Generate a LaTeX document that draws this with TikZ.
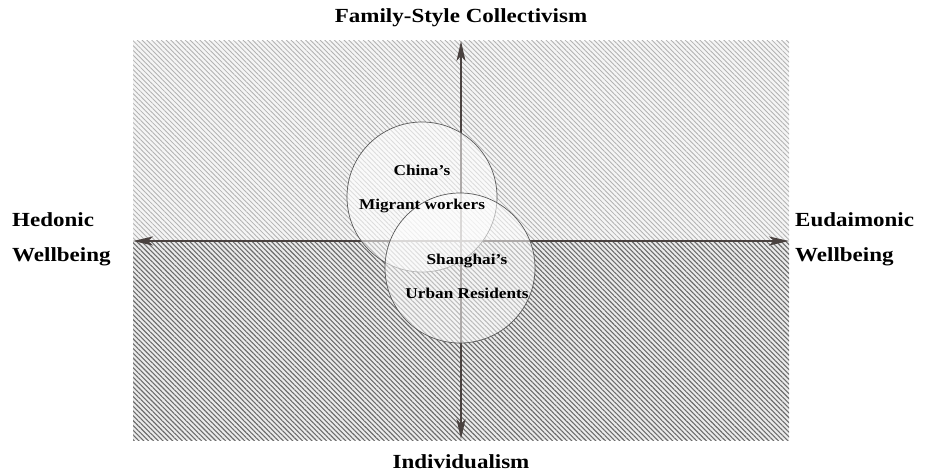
\documentclass[tikz,border=0pt]{standalone}
\usepackage{fontspec}
\setmainfont{Liberation Serif}[FakeStretch=1.15]
\usetikzlibrary{patterns.meta,arrows.meta}
\definecolor{axiscol}{HTML}{4A4240}
\tikzset{
  lightfill/.style={pattern={Lines[angle=-45,distance=3.4pt,line width=0.85pt]},pattern color=black!30},
  darkfill/.style={pattern={Lines[angle=-45,distance=3.4pt,line width=1.1pt]},pattern color=black!58},
  axis/.style={draw=axiscol,line width=1.6pt,{Stealth[length=20pt,width=9pt,inset=5pt]}-{Stealth[length=20pt,width=9pt,inset=5pt]}},
  bubble/.style={circle,draw=black!65,line width=0.7pt,minimum size=150pt,inner sep=0pt,fill=white,fill opacity=0.55},
  label/.style={font=\fontsize{20}{35}\selectfont\bfseries,inner sep=0pt},
  bubtext/.style={font=\fontsize{15}{34}\selectfont\bfseries,align=center,inner sep=0pt,text opacity=1}
}
\begin{document}
\begin{tikzpicture}[x=1pt,y=1pt]
\useasboundingbox (0,0) rectangle (925,475);
\fill[white] (0,0) rectangle (925,475);
\fill[black!4] (133,234) rectangle (789,434);
\fill[lightfill] (133,234) rectangle (789,434);
\fill[black!8] (133,35) rectangle (789,234);
\fill[darkfill] (133,35) rectangle (789,234);
\coordinate (L) at (133,234);
\coordinate (R) at (789,234);
\coordinate (T) at (461,434);
\coordinate (B) at (461,36);
\draw[axis] (L) -- (R);
\draw[axis] (B) -- (T);
\node[bubble] (c1) at (422,278) {};
\node[bubble] (c2) at (460,207) {};
\node[bubtext,anchor=base] (t1) at (422,266) {China's\\Migrant workers};
\node[bubtext,anchor=base] (t2) at (467,177) {Shanghai's\\Urban Residents};
\node[label] (top) at (461,457) {Family-Style Collectivism};
\node[label] (bot) at (461,13) {Individualism};
\node[label,align=left,anchor=west] (left) at (12,236) {Hedonic\\Wellbeing};
\node[label,align=left,anchor=west] (right) at (795,236) {Eudaimonic\\Wellbeing};
\end{tikzpicture}
\end{document}
